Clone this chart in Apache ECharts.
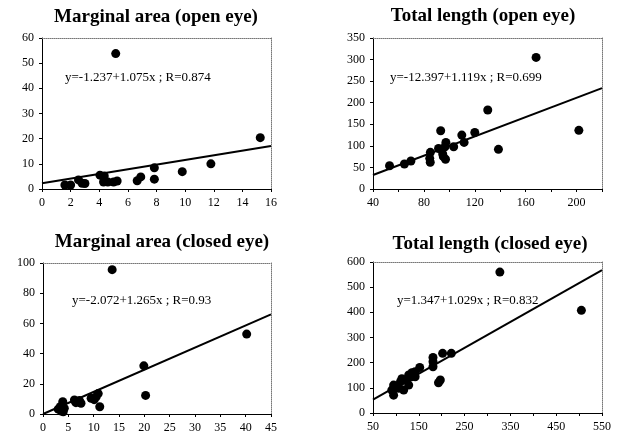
<!DOCTYPE html>
<html>
<head>
<meta charset="utf-8">
<script src="https://cdn.jsdelivr.net/npm/echarts@6/dist/echarts.min.js"></script>
<style>
html,body{margin:0;padding:0;background:#fff;}
#chart{width:617px;height:435px;}
</style>
</head>
<body>
<div id="chart"></div>
<script>
// ---- Data ----
const titles = ['Marginal area (open eye)', 'Total length (open eye)', 'Marginal area (closed eye)', 'Total length (closed eye)'];
const equations = ['y=-1.237+1.075x ; R=0.874', 'y=-12.397+1.119x ; R=0.699', 'y=-2.072+1.265x ; R=0.93', 'y=1.347+1.029x ; R=0.832'];

const openAreaPoints = [[1.6,1.6],[2.0,1.6],[2.55,3.6],[2.8,2.3],[3.0,2.2],[4.05,5.5],[4.35,5.2],[4.3,2.8],[4.6,2.8],[5.0,2.8],[5.25,3.2],[5.15,53.8],[6.65,3.3],[6.9,4.8],[7.85,8.4],[7.85,3.9],[9.8,6.9],[11.8,10],[15.25,20.4]];
const openAreaFit = [[0,2.3],[16,17.1]];

const openLengthPoints = [[53,54],[64.7,58],[69.8,65],[84.6,71],[85,62],[85.1,85],[91.5,94],[93.2,135],[94.8,81],[95.3,75],[96.6,98],[97,69],[97.3,108],[103.4,98],[109.8,125],[111.6,108],[120,131],[130.2,183],[138.6,92],[168.2,305],[201.8,136]];
const openLengthFit = [[40,32.4],[220,233.8]];

const closedAreaPoints = [[3.0,3.2],[3.4,4.8],[3.9,8.1],[4.2,3.8],[4.0,1.5],[3.6,2.0],[6.2,9.3],[7.2,8.9],[7.5,7.1],[6.5,7.5],[9.5,10.4],[10.5,11.4],[10.9,13.5],[10.1,9.5],[11.2,4.8],[13.65,95.6],[19.9,31.9],[20.25,12.3],[40.2,52.9]];
const closedAreaFit = [[0,0],[45,66]];

const closedLengthPoints = [[95,111],[91,91],[95,71],[100,104],[106,98],[110,124],[113,136],[117,91],[120,131],[128,111],[128,151],[132,143],[135,160],[142,144],[142,164],[152,181],[181,221],[181,204],[181,184],[193,120],[197,131],[202,237],[221,237],[327,560],[505,408]];
const closedLengthFit = [[50,52.8],[550,567.3]];

// axis ranges
const xAxesCfg = [
  {min:0, max:16, interval:2, show:(v)=>true},
  {min:40, max:220, interval:20, show:(v)=>v%40===0 && v<=200},
  {min:0, max:45, interval:5, show:(v)=>true},
  {min:50, max:550, interval:50, show:(v)=>(v-50)%100===0}
];
const yAxesCfg = [
  {min:0, max:60, interval:10},
  {min:0, max:350, interval:50},
  {min:0, max:100, interval:20},
  {min:0, max:600, interval:100}
];

// ---- Layout ----
const grids = [
  {left:42, top:38, width:229, height:151},
  {left:373, top:38, width:229, height:151},
  {left:43, top:263, width:228, height:151},
  {left:373, top:262, width:229, height:151}
];
const titlePos = [[156,17],[483,16],[162,242],[490,244]];
const eqPos = [[65,78],[390,78],[72,301],[397,301]];

const serif = '"Liberation Serif","DejaVu Serif",serif';
const chart = echarts.init(document.getElementById('chart'));

const xAxis = [], yAxis = [], series = [];
const pointSets = [openAreaPoints, openLengthPoints, closedAreaPoints, closedLengthPoints];
const fitSets = [openAreaFit, openLengthFit, closedAreaFit, closedLengthFit];

for (let i = 0; i < 4; i++) {
  const xc = xAxesCfg[i], yc = yAxesCfg[i];
  xAxis.push({
    type:'value', gridIndex:i, min:xc.min, max:xc.max, interval:xc.interval,
    splitLine:{show:false},
    axisLine:{show:true, lineStyle:{color:'#000', width:1}},
    axisTick:{show:true, length:3, lineStyle:{color:'#000'}},
    axisLabel:{fontFamily:serif, fontSize:12, color:'#000', margin:8,
      formatter:(v)=> xc.show(v) ? String(v) : ''}
  });
  yAxis.push({
    type:'value', gridIndex:i, min:yc.min, max:yc.max, interval:yc.interval,
    splitLine:{show:false},
    axisLine:{show:true, lineStyle:{color:'#000', width:1}},
    axisTick:{show:true, length:3, lineStyle:{color:'#000'}},
    axisLabel:{fontFamily:serif, fontSize:12, color:'#000', margin:8}
  });
}
// top / right dotted frame axes
for (let i = 0; i < 4; i++) {
  const xc = xAxesCfg[i], yc = yAxesCfg[i];
  xAxis.push({type:'value', gridIndex:i, position:'top', min:xc.min, max:xc.max,
    axisLine:{show:true, onZero:false, lineStyle:{color:'#777', type:'dotted', width:1}},
    axisTick:{show:false}, axisLabel:{show:false}, splitLine:{show:false}});
  yAxis.push({type:'value', gridIndex:i, position:'right', min:yc.min, max:yc.max,
    axisLine:{show:true, onZero:false, lineStyle:{color:'#777', type:'dotted', width:1}},
    axisTick:{show:false}, axisLabel:{show:false}, splitLine:{show:false}});
}

for (let i = 0; i < 4; i++) {
  series.push({
    type:'line', xAxisIndex:i, yAxisIndex:i, data:fitSets[i],
    symbol:'none', lineStyle:{color:'#000', width:2}, silent:true, z:2
  });
  series.push({
    type:'scatter', xAxisIndex:i, yAxisIndex:i, data:pointSets[i],
    symbol:'circle', symbolSize:9, itemStyle:{color:'#000', opacity:1}, z:3
  });
}

const graphic = [];
for (let i = 0; i < 4; i++) {
  graphic.push({type:'text', x:titlePos[i][0], y:titlePos[i][1],
    style:{text:titles[i], fill:'#000', font:'bold 19px ' + serif, textAlign:'center', textVerticalAlign:'middle'}});
  graphic.push({type:'text', x:eqPos[i][0], y:eqPos[i][1],
    style:{text:equations[i], fill:'#000', font:'13px ' + serif, textAlign:'left', textVerticalAlign:'middle'}});
}

chart.setOption({
  animation:false,
  backgroundColor:'#fff',
  grid: grids.map(g => Object.assign({containLabel:false}, g)),
  xAxis, yAxis, series, graphic
});
</script>
</body>
</html>
